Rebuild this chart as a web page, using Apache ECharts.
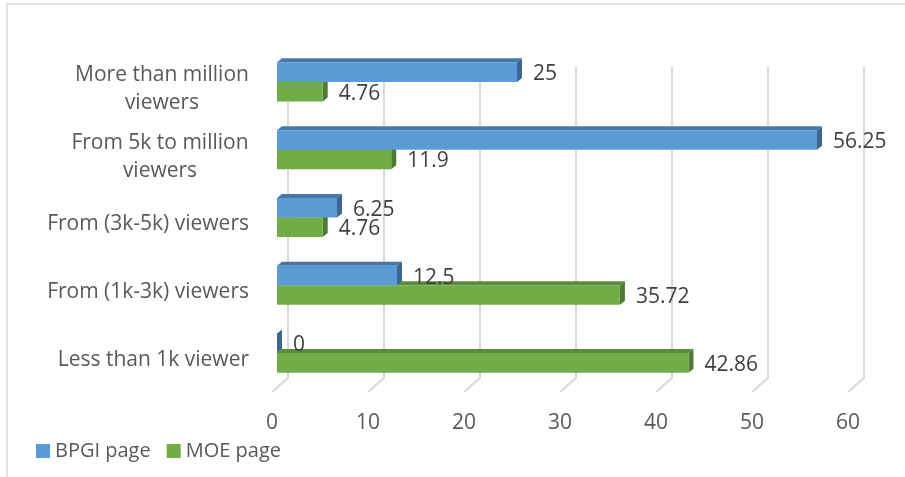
<!DOCTYPE html>
<html>
<head>
<meta charset="utf-8">
<script src="https://cdn.jsdelivr.net/npm/echarts@6/dist/echarts.min.js"></script>
<style>
html,body{margin:0;padding:0;background:#fff;}
#c{width:905px;height:477px;}
</style>
</head>
<body>
<div id="c"></div>
<script>
// ---- data ----
const categories = ['Less than 1k viewer', 'From (1k-3k) viewers', 'From (3k-5k) viewers', 'From 5k to million\nviewers', 'More than million\nviewers'];
const bpgiValues = [0, 12.5, 6.25, 56.25, 25];
const moeValues = [42.86, 35.72, 4.76, 11.9, 4.76];
const seriesNames = ['BPGI page', 'MOE page'];
const xTicks = [0, 10, 20, 30, 40, 50, 60];

// ---- styling ----
const FONT = '"Open Sans", sans-serif';
const FS = 21;
const AXIS_COLOR = '#595959';
const LABEL_COLOR = '#404040';
const DX = 5, DY = -4;

const ctx = document.createElement('canvas').getContext('2d');
ctx.font = FS + 'px "Open Sans"';
const tw = s => ctx.measureText(s).width;

const rich = {};
categories.forEach((c, i) => {
  const lines = c.split('\n');
  rich['c' + i] = {
    width: Math.ceil(Math.max(...lines.map(tw))),
    align: 'center', fontSize: FS, fontFamily: FONT, color: AXIS_COLOR, lineHeight: 28
  };
});

function barRenderer(front, top, side, upper) {
  return function (params, api) {
    const v = api.value(0), c = api.value(1);
    const p0 = api.coord([0, c]);
    const p1 = api.coord([v, c]);
    const band = api.size([0, 1])[1];
    const h = band * 0.288;
    const yTop = upper ? p0[1] - h : p0[1];
    const yBot = yTop + h;
    const x0 = p0[0], x1 = p1[0];
    return {
      type: 'group',
      children: [
        { type: 'polygon', shape: { points: [[x0, yTop], [x0 + DX, yTop + DY], [x1 + DX, yTop + DY], [x1, yTop]] }, style: { fill: top } },
        { type: 'polygon', shape: { points: [[x1, yTop], [x1 + DX, yTop + DY], [x1 + DX, yBot + DY], [x1, yBot]] }, style: { fill: side } },
        { type: 'rect', shape: { x: x0, y: yTop, width: x1 - x0, height: h }, style: { fill: front } },
        { type: 'text', x: x1 + 16, y: (yTop + yBot) / 2 + 2, style: { text: String(v), fill: LABEL_COLOR, font: FS + 'px ' + FONT, align: 'left', verticalAlign: 'middle' } }
      ]
    };
  };
}

function gridRenderer(params, api) {
  const v = api.value(0);
  const p = api.coord([v, 0]);
  const cs = params.coordSys;
  const bottom = cs.y + cs.height;
  return {
    type: 'polyline',
    shape: { points: [[p[0] + 11, cs.y + 19], [p[0] + 11, bottom - 9], [p[0] - 5, bottom + 5]] },
    style: { stroke: '#d9d9d9', lineWidth: 2, fill: null }
  };
}

const chart = echarts.init(document.getElementById('c'));
chart.setOption({
  animation: false,
  backgroundColor: '#fff',
  graphic: [{
    type: 'rect', shape: { x: 7, y: 4, width: 1000, height: 1000 },
    style: { stroke: '#d9d9d9', fill: null, lineWidth: 1.5 }, silent: true, z: -10
  }],
  legend: {
    data: seriesNames,
    left: 31, top: 436,
    icon: 'rect', itemWidth: 14, itemHeight: 14, itemGap: 16,
    textStyle: { fontSize: 20, fontFamily: FONT, color: AXIS_COLOR }
  },
  grid: { left: 277, right: 52, top: 48, bottom: 90 },
  xAxis: {
    type: 'value', min: 0, max: 60, interval: 10,
    axisLine: { show: false }, axisTick: { show: false }, splitLine: { show: false },
    axisLabel: { margin: 26, padding: [0, 10, 0, 0], fontSize: FS, fontFamily: FONT, color: AXIS_COLOR }
  },
  yAxis: {
    type: 'category', data: categories,
    axisLine: { show: false }, axisTick: { show: false }, splitLine: { show: false },
    axisLabel: {
      interval: 0, showMinLabel: true, showMaxLabel: true, hideOverlap: false,
      margin: 28, padding: [14, 0, 0, 0], fontSize: FS, fontFamily: FONT, color: AXIS_COLOR, lineHeight: 28,
      formatter: (val, idx) => val.indexOf('\n') < 0 ? val : val.split('\n').map(l => '{c' + idx + '|' + l + '}').join('\n'),
      rich: rich
    }
  },
  series: [
    {
      name: 'grid', type: 'custom', silent: true, z: 1,
      renderItem: gridRenderer,
      encode: { x: 0, y: 1 },
      data: xTicks.map(t => [t, 0])
    },
    {
      name: seriesNames[0], type: 'custom', z: 3,
      itemStyle: { color: '#5b9bd5' },
      renderItem: barRenderer('#5b9bd5', '#4777a6', '#3d6791', true),
      encode: { x: 0, y: 1 },
      data: bpgiValues.map((v, i) => [v, i])
    },
    {
      name: seriesNames[1], type: 'custom', z: 2,
      itemStyle: { color: '#70ad47' },
      renderItem: barRenderer('#70ad47', '#5b8c3a', '#4f7a31', false),
      encode: { x: 0, y: 1 },
      data: moeValues.map((v, i) => [v, i])
    }
  ]
});
</script>
</body>
</html>
